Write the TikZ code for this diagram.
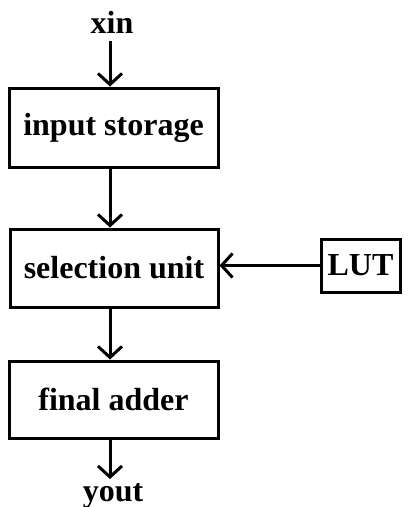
\documentclass[tikz,border=0pt]{standalone}
\usepackage{fontspec}
\setmainfont{Liberation Serif}
\usetikzlibrary{arrows.meta}
\begin{document}
\begin{tikzpicture}[x=1pt,y=-1pt,
  blk/.style={draw, line width=3pt, inner sep=0pt, font=\fontsize{32}{36}\selectfont\bfseries},
  lbl/.style={inner sep=0pt, font=\fontsize{32}{36}\selectfont\bfseries},
  conn/.style={line width=3pt, -{Straight Barb[length=11pt,width=24pt,line width=3pt]}}]
\useasboundingbox[fill=white] (0,0) rectangle (414,507);
\node[blk, minimum width=209pt, minimum height=79pt] (is) at (113.5,127.5) {input storage};
\node[blk, minimum width=208pt, minimum height=78pt] (su) at (114,268) {selection unit};
\node[blk, minimum width=209pt, minimum height=77pt] (fa) at (113.5,399.5) {final adder};
\node[blk, minimum width=79pt, minimum height=53pt] (lut) at (360.5,265.5) {LUT};
\node[lbl, anchor=base] (xin) at (112,33) {xin};
\node[lbl, anchor=base] (yout) at (113,501) {yout};
\coordinate (xs) at (110,41);
\coordinate (ye) at (110,479);
\draw[conn] (xs) -- (xs |- is.north);
\draw[conn] ([xshift=-3.5pt]is.south) -- ([xshift=-4pt]su.north);
\draw[conn] ([xshift=-4pt]su.south) -- ([xshift=-3.5pt]fa.north);
\draw[conn] ([xshift=-3.5pt]fa.south) -- (ye);
\draw[conn] (lut.west) -- (lut.west -| su.east);
\end{tikzpicture}
\end{document}
